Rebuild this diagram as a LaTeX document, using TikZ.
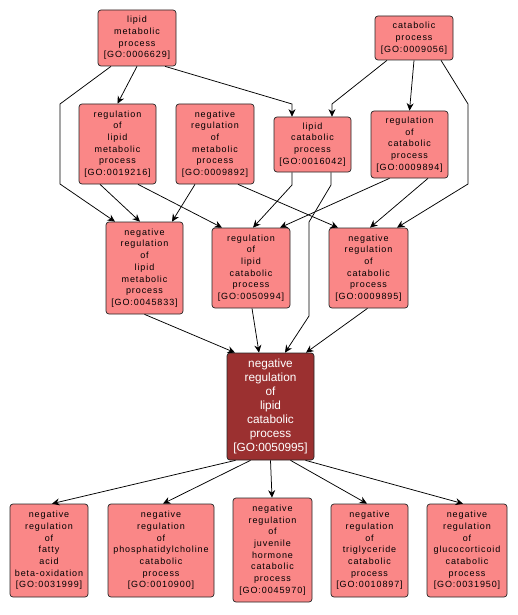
\documentclass[tikz,border=0pt]{standalone}
\usepackage{fontspec}
\setmainfont{Liberation Sans}[LetterSpace=10]
\newfontfamily\mainnodefont{Liberation Sans}
\usetikzlibrary{arrows.meta}
\definecolor{boxfill}{RGB}{250,135,135}
\definecolor{mainfill}{RGB}{155,48,48}
\tikzset{
  goterm/.style={draw=black!85, line width=0.7pt, fill=boxfill, rounded corners=3pt,
    align=center, inner sep=0pt, font=\fontsize{9}{11.7}\selectfont, text=black},
  gomain/.style={goterm, fill=mainfill, text=white, font=\mainnodefont\fontsize{11.8}{14}\selectfont},
  rel/.style={draw=black, line width=0.75pt, -{Stealth[length=7.5pt,width=7pt,inset=2.5pt]}}
}
\begin{document}
\begin{tikzpicture}[x=1pt,y=-1pt]
\useasboundingbox (0,0) rectangle (518,615);
\fill[white] (0,0) rectangle (518,615);
% nodes
\node[goterm, minimum width=78pt, minimum height=56pt] (A) at (137,38) {lipid\\metabolic\\process\\{[GO:0006629]}};
\node[goterm, minimum width=78pt, minimum height=44pt] (B) at (414,38) {catabolic\\process\\{[GO:0009056]}};
\node[goterm, minimum width=77pt, minimum height=80pt] (C) at (117.5,144) {regulation\\of\\lipid\\metabolic\\process\\{[GO:0019216]}};
\node[goterm, minimum width=78pt, minimum height=80pt] (D) at (215,144) {negative\\regulation\\of\\metabolic\\process\\{[GO:0009892]}};
\node[goterm, minimum width=77pt, minimum height=55pt] (E) at (312.5,144.5) {lipid\\catabolic\\process\\{[GO:0016042]}};
\node[goterm, minimum width=77pt, minimum height=67pt] (F) at (409.5,144.5) {regulation\\of\\catabolic\\process\\{[GO:0009894]}};
\node[goterm, minimum width=77pt, minimum height=92pt] (G) at (144.5,268) {negative\\regulation\\of\\lipid\\metabolic\\process\\{[GO:0045833]}};
\node[goterm, minimum width=78pt, minimum height=80pt] (H) at (251,268) {regulation\\of\\lipid\\catabolic\\process\\{[GO:0050994]}};
\node[goterm, minimum width=79pt, minimum height=80pt] (I) at (368.5,268) {negative\\regulation\\of\\catabolic\\process\\{[GO:0009895]}};
\node[gomain, minimum width=87pt, minimum height=107pt] (J) at (270.5,406.5) {negative\\regulation\\of\\lipid\\catabolic\\process\\{[GO:0050995]}};
\node[goterm, minimum width=78pt, minimum height=93pt] (K1) at (49,550.5) {negative\\regulation\\of\\fatty\\acid\\beta-oxidation\\{[GO:0031999]}};
\node[goterm, minimum width=106pt, minimum height=93pt] (K2) at (161,550.5) {negative\\regulation\\of\\phosphatidylcholine\\catabolic\\process\\{[GO:0010900]}};
\node[goterm, minimum width=79pt, minimum height=104pt] (K3) at (272.5,550) {negative\\regulation\\of\\juvenile\\hormone\\catabolic\\process\\{[GO:0045970]}};
\node[goterm, minimum width=77pt, minimum height=93pt] (K4) at (369.5,550.5) {negative\\regulation\\of\\triglyceride\\catabolic\\process\\{[GO:0010897]}};
\node[goterm, minimum width=80pt, minimum height=93pt] (K5) at (467,550.5) {negative\\regulation\\of\\glucocorticoid\\catabolic\\process\\{[GO:0031950]}};
% bend points
\coordinate (pAG1) at (60,104);
\coordinate (pAG2) at (60,184);
\coordinate (pAE) at (292,104);
\coordinate (pBE) at (332,104);
\coordinate (pBI1) at (468,104);
\coordinate (pBI2) at (468,184);
\coordinate (pEH) at (292,185);
\coordinate (pEJ1) at (331,185);
\coordinate (pEJ2) at (309,222);
\coordinate (pEJ3) at (309,316);
% edges
\draw[rel] (A.south) -- (C.north);
\draw[rel] ([xshift=-26pt]A.south) -- (pAG1) -- (pAG2) -- ([xshift=-29.5pt]G.north);
\draw[rel] ([xshift=28pt]A.south) -- (pAE) -- ([xshift=-20.5pt]E.north);
\draw[rel] ([xshift=-27pt]B.south) -- (pBE) -- ([xshift=19.5pt]E.north);
\draw[rel] (B.south) -- (F.north);
\draw[rel] ([xshift=27pt]B.south) -- (pBI1) -- (pBI2) -- ([xshift=28.5pt]I.north);
\draw[rel] ([xshift=-17.5pt]C.south) -- ([xshift=-4.5pt]G.north);
\draw[rel] ([xshift=20.5pt]C.south) -- ([xshift=-29pt]H.north);
\draw[rel] ([xshift=-20pt]D.south) -- ([xshift=27.5pt]G.north);
\draw[rel] ([xshift=23pt]D.south) -- ([xshift=-30.5pt]I.north);
\draw[rel] ([xshift=-20.5pt]E.south) -- (pEH) -- ([xshift=2pt]H.north);
\draw[rel] ([xshift=18.5pt]E.south) -- (pEJ1) -- (pEJ2) -- (pEJ3) -- ([xshift=14.5pt]J.north);
\draw[rel] ([xshift=-20pt]F.south) -- ([xshift=29pt]H.north);
\draw[rel] ([xshift=18.5pt]F.south) -- ([xshift=1.5pt]I.north);
\draw[rel] (G.south) -- ([xshift=-35.5pt]J.north);
\draw[rel] ([xshift=1pt]H.south) -- ([xshift=-11.5pt]J.north);
\draw[rel] ([xshift=-1pt]I.south) -- ([xshift=35.5pt]J.north);
\draw[rel] ([xshift=-35pt]J.south) -- ([xshift=3pt]K1.north);
\draw[rel] ([xshift=-20pt]J.south) -- ([xshift=2pt]K2.north);
\draw[rel] (J.south) -- ([xshift=-0.5pt]K3.north);
\draw[rel] ([xshift=20pt]J.south) -- ([xshift=-2.5pt]K4.north);
\draw[rel] ([xshift=35pt]J.south) -- ([xshift=-4pt]K5.north);
\end{tikzpicture}
\end{document}
